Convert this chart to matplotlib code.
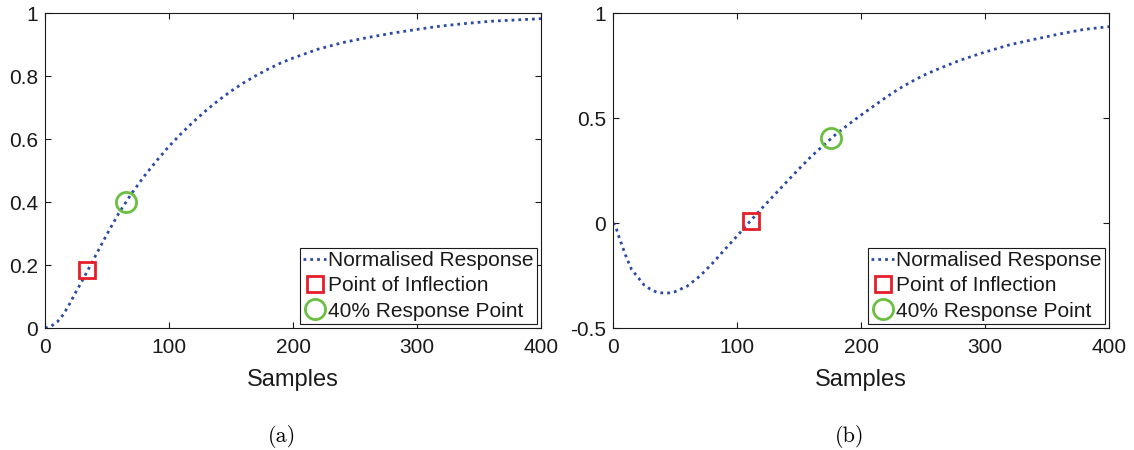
import numpy as np
import matplotlib
matplotlib.use("Agg")
import matplotlib.pyplot as plt

# =========================================================
# DATA
# =========================================================
samples_a = [0, 5, 10, 15, 20, 25, 30, 35, 40, 50, 60, 70, 80, 90, 100,
             110, 120, 130, 140, 150, 160, 170, 180, 190, 200, 220, 240,
             260, 280, 300, 320, 340, 360, 380, 400]
response_a = [0.0, 0.006, 0.02, 0.044, 0.078, 0.115, 0.15, 0.187, 0.224, 0.298,
              0.368, 0.428, 0.482, 0.531, 0.577, 0.618, 0.656, 0.691, 0.723,
              0.752, 0.778, 0.801, 0.822, 0.841, 0.857, 0.885, 0.906, 0.922,
              0.936, 0.948, 0.959, 0.967, 0.974, 0.978, 0.982]
inflection_a = (34, 0.184)
pt40_a = (65, 0.40)

samples_b = [0, 2, 5, 10, 15, 20, 25, 30, 35, 40, 45, 50, 60, 70, 80, 90,
             100, 110, 120, 130, 140, 150, 160, 170, 180, 190, 200, 210, 220,
             230, 240, 250, 260, 270, 280, 290, 300, 320, 340, 360, 380, 400]
response_b = [0.0, -0.015, -0.07, -0.152, -0.222, -0.258, -0.295, -0.315,
              -0.329, -0.333, -0.333, -0.327, -0.30, -0.253, -0.193, -0.127,
              -0.062, 0.005, 0.07, 0.133, 0.196, 0.258, 0.318, 0.371, 0.424,
              0.47, 0.514, 0.556, 0.598, 0.637, 0.671, 0.702, 0.728, 0.752,
              0.775, 0.795, 0.814, 0.849, 0.875, 0.90, 0.922, 0.935]
inflection_b = (111, 0.011)
pt40_b = (176, 0.403)

x_ticks = [0, 100, 200, 300, 400]
y_ticks_a = [0, 0.2, 0.4, 0.6, 0.8, 1]
y_ticks_b = [-0.5, 0, 0.5, 1]
y_lim_a = (0, 1)
y_lim_b = (-0.5, 1)

legend_labels = ["Normalised Response", "Point of Inflection", "40% Response Point"]

# =========================================================
# STYLE
# =========================================================
plt.rcParams["font.family"] = ["Liberation Sans", "DejaVu Sans"]
text_color = "#1a1a1a"
blue = "#2B4AA3"
red = "#E61E2A"
green = "#6ABF40"

fig = plt.figure(figsize=(11.34, 4.5), dpi=100)


def draw_panel(rect, xs, ys, infl, pt40, yticks, ylim, caption):
    ax = fig.add_axes(rect)
    ax.plot(xs, ys, color=blue, lw=2.0, linestyle=(0, (1, 1.45)),
            label=legend_labels[0])
    ax.plot([infl[0]], [infl[1]], linestyle="none", marker="s", markersize=11.5,
            markerfacecolor="none", markeredgecolor=red, markeredgewidth=2.0,
            label=legend_labels[1])
    ax.plot([pt40[0]], [pt40[1]], linestyle="none", marker="o", markersize=14.5,
            markerfacecolor="none", markeredgecolor=green, markeredgewidth=2.0,
            label=legend_labels[2])

    ax.set_xlim(0, 400)
    ax.set_ylim(*ylim)
    ax.set_xticks(x_ticks)
    ax.set_yticks(yticks)
    ax.set_yticklabels([f"{v:g}" for v in yticks])
    ax.tick_params(direction="in", top=True, right=True, length=4.5,
                   width=0.8, labelsize=15, colors=text_color)
    ax.tick_params(axis="x", pad=7)
    ax.tick_params(axis="y", pad=5)
    for s in ax.spines.values():
        s.set_color(text_color)
        s.set_linewidth(0.8)

    ax.set_xlabel("Samples", fontsize=17, color=text_color, labelpad=9)

    leg = ax.legend(loc="lower right", fontsize=15, frameon=True, fancybox=False,
                    handlelength=1.1, handletextpad=0.1, labelspacing=0.3,
                    borderpad=0.15, borderaxespad=0.2, edgecolor=text_color,
                    framealpha=1)
    leg.get_frame().set_linewidth(0.8)
    for t in leg.get_texts():
        t.set_color(text_color)

    x0, w = rect[0], rect[2]
    fig.text(x0 + w / 2 - 0.01, 0.03, caption, fontsize=16, family="cmr10",
             ha="center", va="center", color="black")
    return ax


ax_a = draw_panel([0.0397, 0.2711, 0.4374, 0.7], samples_a, response_a,
                  inflection_a, pt40_a, y_ticks_a, y_lim_a, "(a)")
ax_b = draw_panel([0.5406, 0.2711, 0.4374, 0.7], samples_b, response_b,
                  inflection_b, pt40_b, y_ticks_b, y_lim_b, "(b)")

fig.savefig("out.png", dpi=100)
